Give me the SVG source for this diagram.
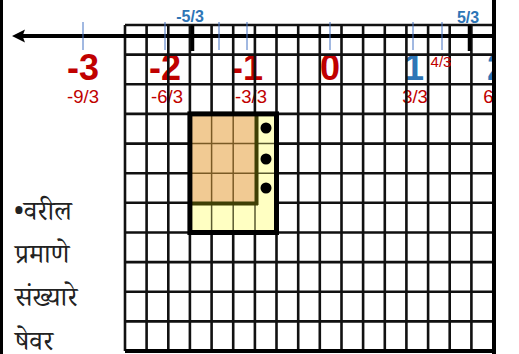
<svg xmlns="http://www.w3.org/2000/svg" width="519" height="354" viewBox="0 0 519 354">
<style>
.g{stroke:#111;stroke-width:2.6;fill:none}
.big{font-family:"Liberation Sans",Arial,sans-serif;font-weight:bold;font-size:36px;text-anchor:middle}
.fr{font-family:"Liberation Sans",Arial,sans-serif;font-size:18.5px;text-anchor:middle;fill:#C00000}
.bl{font-family:"Liberation Sans",Arial,sans-serif;font-size:16px;font-weight:bold;text-anchor:middle;fill:#2E75B6}
.red{fill:#C00000}
.blue{fill:#2E75B6}
.tk{stroke:#4472C4;stroke-width:1}
.dv{font-family:"Noto Serif Devanagari","Noto Sans Devanagari","Lohit Devanagari",Mangal,"Noto Sans",serif;font-size:27px;fill:#222}
.il{stroke:#7a5a25;stroke-width:1.5}
.iy{stroke:#5a5a30;stroke-width:1.5}
</style>
<rect x="0" y="0" width="519" height="354" fill="#fff"/>
<g id="labels">
<text class="big red" x="83" y="80">-3</text>
<text class="big red" x="165" y="80">-2</text>
<text class="big red" x="247" y="80">-1</text>
<text class="big red" x="330" y="80">0</text>
<text class="big blue" x="414" y="80">1</text>
<text class="big blue" x="497" y="80">2</text>
<text class="fr" x="83" y="103">-9/3</text>
<text class="fr" x="167" y="103">-6/3</text>
<text class="fr" x="251" y="103">-3/3</text>
<text class="fr" x="415" y="103">3/3</text>
<text class="fr" x="496" y="103">6/3</text>
</g>
<g id="grid">
<path class="g" d="M125,25V351M146.6,25V351M168.3,25V351M189.9,25V351M211.6,25V351M233.2,25V351M254.9,25V351M276.5,25V351M298.2,25V351M319.8,25V351M341.5,25V351M363.1,25V351M384.8,25V351M406.4,25V351M428.1,25V351M449.7,25V351M471.4,25V351"/>
<path class="g" d="M125,25H493M125,54.6H493M125,84.3H493M125,113.9H493M125,143.6H493M125,173.2H493M125,202.8H493M125,232.5H493M125,262.1H493M125,291.8H493M125,321.4H493"/>
<path d="M125,351H495" stroke="#000" stroke-width="4"/>
</g>
<rect x="496" y="0" width="23" height="354" fill="#fff"/>
<path d="M494,0V354" stroke="#000" stroke-width="4"/>
<path d="M1.5,0V354" stroke="#000" stroke-width="3"/>
<g id="block">
<rect x="189.9" y="113.9" width="86.6" height="118.6" fill="#FFFFC2"/>
<rect x="189.9" y="113.9" width="65" height="88.9" fill="#F1CA93"/>
<path class="il" d="M211.6,114V203M233.2,114V203M190,143.6H255M190,173.2H255"/>
<path class="iy" d="M211.6,203V232M233.2,203V232M255,143.6H276M255,173.2H276M255,203V232"/>
<path d="M256.5,114V205M190,203.5H258" stroke="#3f3f05" stroke-width="4"/>
<rect x="189.9" y="113.9" width="86.6" height="118.6" fill="none" stroke="#000" stroke-width="5"/>
<circle cx="266" cy="128" r="5.5" fill="#000"/>
<circle cx="266" cy="159" r="5.5" fill="#000"/>
<circle cx="266" cy="188" r="5.5" fill="#000"/>
</g>
<g id="connectors">
<path d="M21,36H493" stroke="#000" stroke-width="4"/>
<path d="M12,36L25,29.5L22.5,36L25,42.5z" fill="#000"/>
<path class="tk" d="M83,22V50M165,22V50M219,22V50M247,22V50M330,22V50M413,22V50M442,22V50"/>
<path d="M192.5,25V51M469.5,25V51" stroke="#000" stroke-width="3.5"/>
</g>
<g id="toplabels">
<text class="bl" x="190" y="22">-5/3</text>
<text class="bl" x="468" y="23">5/3</text>
<text class="fr" x="441" y="67" style="font-size:15px">4/3</text>
</g>
<g id="sidetext">
<text class="dv" x="14" y="220">•वरील</text>
<text class="dv" x="15" y="263">प्रमाणे</text>
<text class="dv" x="15" y="306">संख्यारे</text>
<text class="dv" x="15" y="350">षेवर</text>
</g>
</svg>
